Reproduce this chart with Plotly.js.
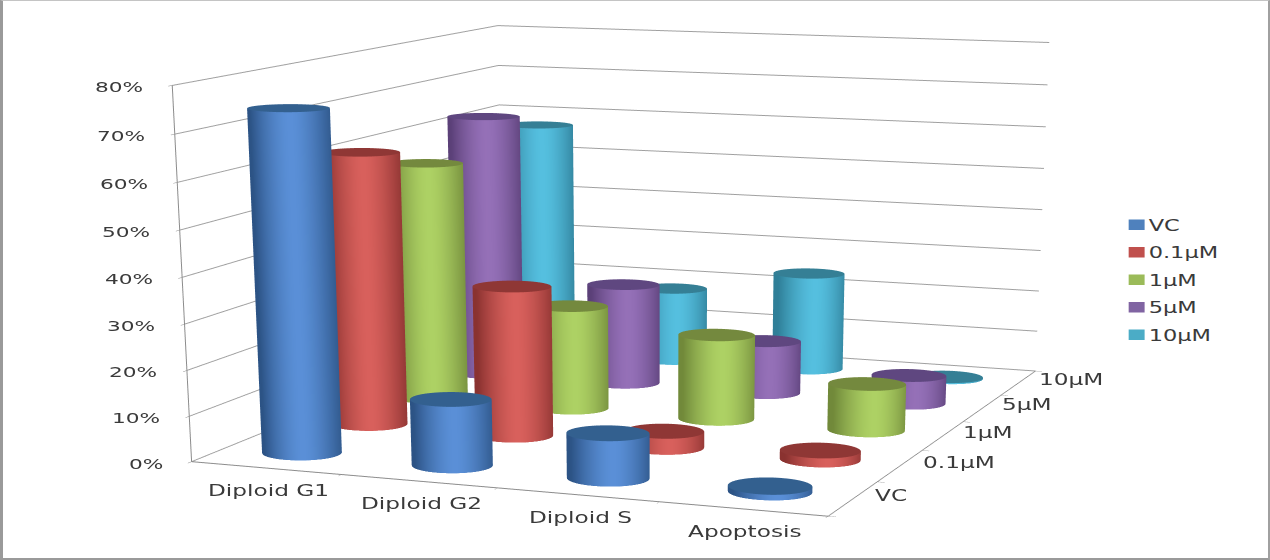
<!DOCTYPE html>
<html>
<head>
<meta charset="utf-8">
<script src="https://cdn.plot.ly/plotly-3.0.1.min.js"></script>
<style>
html,body{margin:0;padding:0;background:#fff;overflow:hidden;width:1270px;height:560px}
#stage{position:relative;width:1270px;height:560px;overflow:hidden}
#chart{position:absolute;left:-44px;top:-411px;width:1399px;height:2542px}
#frame{position:absolute;left:0;top:0;width:1270px;height:560px;box-sizing:border-box;pointer-events:none;
  border-left:3px solid #9a9a9a;border-top:1px solid #c4c4c4;border-right:2px solid #a0a0a0;border-bottom:2px solid #9a9a9a}
/* wide lettering on every label, broad legend keys */
text.annotation-text{transform-box:fill-box;transform-origin:center;transform:scaleX(1.55)}
text.legendtext{transform-box:fill-box;transform-origin:left center;transform:scaleX(1.5)}
.legend path.scatterpts{transform:translate(28px,0) scale(1.45,0.95)}
</style>
</head>
<body>
<div id="stage"><div id="chart"></div><div id="frame"></div></div>
<script>
// Cell-cycle fractions per treatment, in percent
var categories = ['Diploid G1', 'Diploid G2', 'Diploid S', 'Apoptosis'];
var seriesNames = ['VC', '0.1\u00b5M', '1\u00b5M', '5\u00b5M', '10\u00b5M'];
var valuesVC = [74.4, 14.4, 9.7, 1.2];
var values01 = [61.5, 33.6, 3.6, 2];
var values1 = [55.3, 24, 19.5, 10.6];
var values5 = [62.7, 24, 12.5, 6.6];
var values10 = [57.3, 18, 23.8, 0.3];
var percentTicks = [0, 10, 20, 30, 40, 50, 60, 70, 80];
var allValues = [valuesVC, values01, values1, values5, values10];

// swatch / edge / highlight / top-cap shades for each series
var swatches = ['#4f81bd', '#c0504d', '#9bbb59', '#8064a2', '#4bacc6'];
var edgeShades = [[44,83,133],[138,50,48],[113,137,58],[91,64,120],[47,127,152]];
var midShades = [[90,144,216],[217,96,92],[174,210,100],[149,112,184],[85,192,224]];
var capShades = [[51,96,143],[143,55,53],[116,137,62],[95,71,128],[53,127,149]];

var RX = 0.245, RY = 0.24, SEGMENTS = 60;

function rgb(c) { return 'rgb(' + c.map(Math.round).join(',') + ')'; }
function mix(a, b, t) { return a.map(function (v, i) { return v + (b[i] - v) * t; }); }

// One mesh per series holding a capped cylinder for every category
function seriesMesh(s) {
  var x = [], y = [], z = [], i = [], j = [], k = [], vc = [];
  allValues[s].forEach(function (value, c) {
    var cx = c + 0.5, cy = s + 0.5, base = x.length, a, n;
    for (n = 0; n <= SEGMENTS; n++) {
      a = 2 * Math.PI * n / SEGMENTS;
      var u = Math.cos(a - 0.37);           // horizontal position as seen by the viewer
      var shade = mix(edgeShades[s], midShades[s], Math.max(0, 1 - Math.pow(Math.abs(u - 0.1), 1.6)));
      [0, value].forEach(function (h) {
        x.push(cx + RX * Math.cos(a)); y.push(cy + RY * Math.sin(a)); z.push(h); vc.push(rgb(shade));
      });
    }
    for (n = 0; n < SEGMENTS; n++) {
      var p = base + 2 * n;
      i.push(p, p + 1); j.push(p + 2, p + 2); k.push(p + 1, p + 3);
    }
    var capStart = x.length;
    x.push(cx); y.push(cy); z.push(value); vc.push(rgb(capShades[s]));
    for (n = 0; n <= SEGMENTS; n++) {
      a = 2 * Math.PI * n / SEGMENTS;
      x.push(cx + RX * Math.cos(a)); y.push(cy + RY * Math.sin(a)); z.push(value); vc.push(rgb(capShades[s]));
    }
    for (n = 0; n < SEGMENTS; n++) { i.push(capStart); j.push(capStart + 1 + n); k.push(capStart + 2 + n); }
  });
  return {
    type: 'mesh3d', name: seriesNames[s], x: x, y: y, z: z, i: i, j: j, k: k, vertexcolor: vc,
    flatshading: false, lighting: {ambient: 1, diffuse: 0, specular: 0, roughness: 1, fresnel: 0},
    hoverinfo: 'skip', showlegend: false
  };
}

// Empty marker traces carry the legend entries
function legendEntry(s) {
  return {
    type: 'scatter3d', mode: 'markers', name: seriesNames[s], legendgroup: 'g' + s,
    x: [null], y: [null], z: [null],
    marker: {size: 11, symbol: 'square', color: swatches[s]}, showlegend: true
  };
}

var traces = [];
seriesNames.forEach(function (n, s) { traces.push(seriesMesh(s)); });
seriesNames.forEach(function (n, s) { traces.push(legendEntry(s)); });

var labelFont = {family: 'DejaVu Sans', size: 15, color: '#3a3a3a'};
var annotations = [];
percentTicks.forEach(function (t) {
  var label = t + '%';
  annotations.push({x: 0, y: 0, z: t, text: label, showarrow: false, xshift: -31 - 7.5 * label.length, yshift: -2,
    font: {family: 'DejaVu Sans', size: 14, color: '#3a3a3a'}});
});
categories.forEach(function (name, c) {
  annotations.push({x: c + 0.5, y: 0, z: 0, text: name, showarrow: false, xshift: 2, yshift: -23, font: labelFont});
});
seriesNames.forEach(function (name, s) {
  annotations.push({x: 4, y: s + 0.5, z: 0, text: name, showarrow: false, xshift: 23 + 7.25 * name.length, yshift: 3, font: labelFont});
});

var axisCommon = {
  showbackground: false, showspikes: false, zeroline: false, showline: true,
  linecolor: '#8c8c8c', linewidth: 2, showticklabels: false, title: {text: ''},
  ticks: 'outside', ticklen: 6, tickcolor: '#8c8c8c'
};
var layout = {
  width: 1399, height: 2542, margin: {l: 0, r: 0, t: 0, b: 0},
  paper_bgcolor: '#ffffff', showlegend: true,
  legend: {x: 0.8239, y: 0.7282, xanchor: 'left', yanchor: 'middle', font: labelFont, tracegroupgap: 5, itemclick: false},
  scene: {
    domain: {x: [0, 1], y: [0, 1]},
    aspectmode: 'manual', aspectratio: {x: 2, y: 2.3327, z: 1.0976},
    camera: {
      eye: {x: 3.524, y: -9.1382, z: 1.4072},
      center: {x: 0.2707, y: -0.5984, z: -1.8432},
      up: {x: 0.007, y: 0, z: 1},
      projection: {type: 'perspective'}
    },
    xaxis: Object.assign({}, axisCommon, {range: [0, 4], tickvals: [0, 1, 2, 3, 4], showgrid: false}),
    yaxis: Object.assign({}, axisCommon, {range: [0, 5], tickvals: [0, 1, 2, 3, 4, 5], showgrid: false}),
    zaxis: Object.assign({}, axisCommon, {range: [0, 80], tickvals: percentTicks, showgrid: true, gridcolor: '#a0a0a0', gridwidth: 2}),
    annotations: annotations
  }
};
Plotly.newPlot('chart', traces, layout, {displayModeBar: false});
</script>
</body>
</html>
